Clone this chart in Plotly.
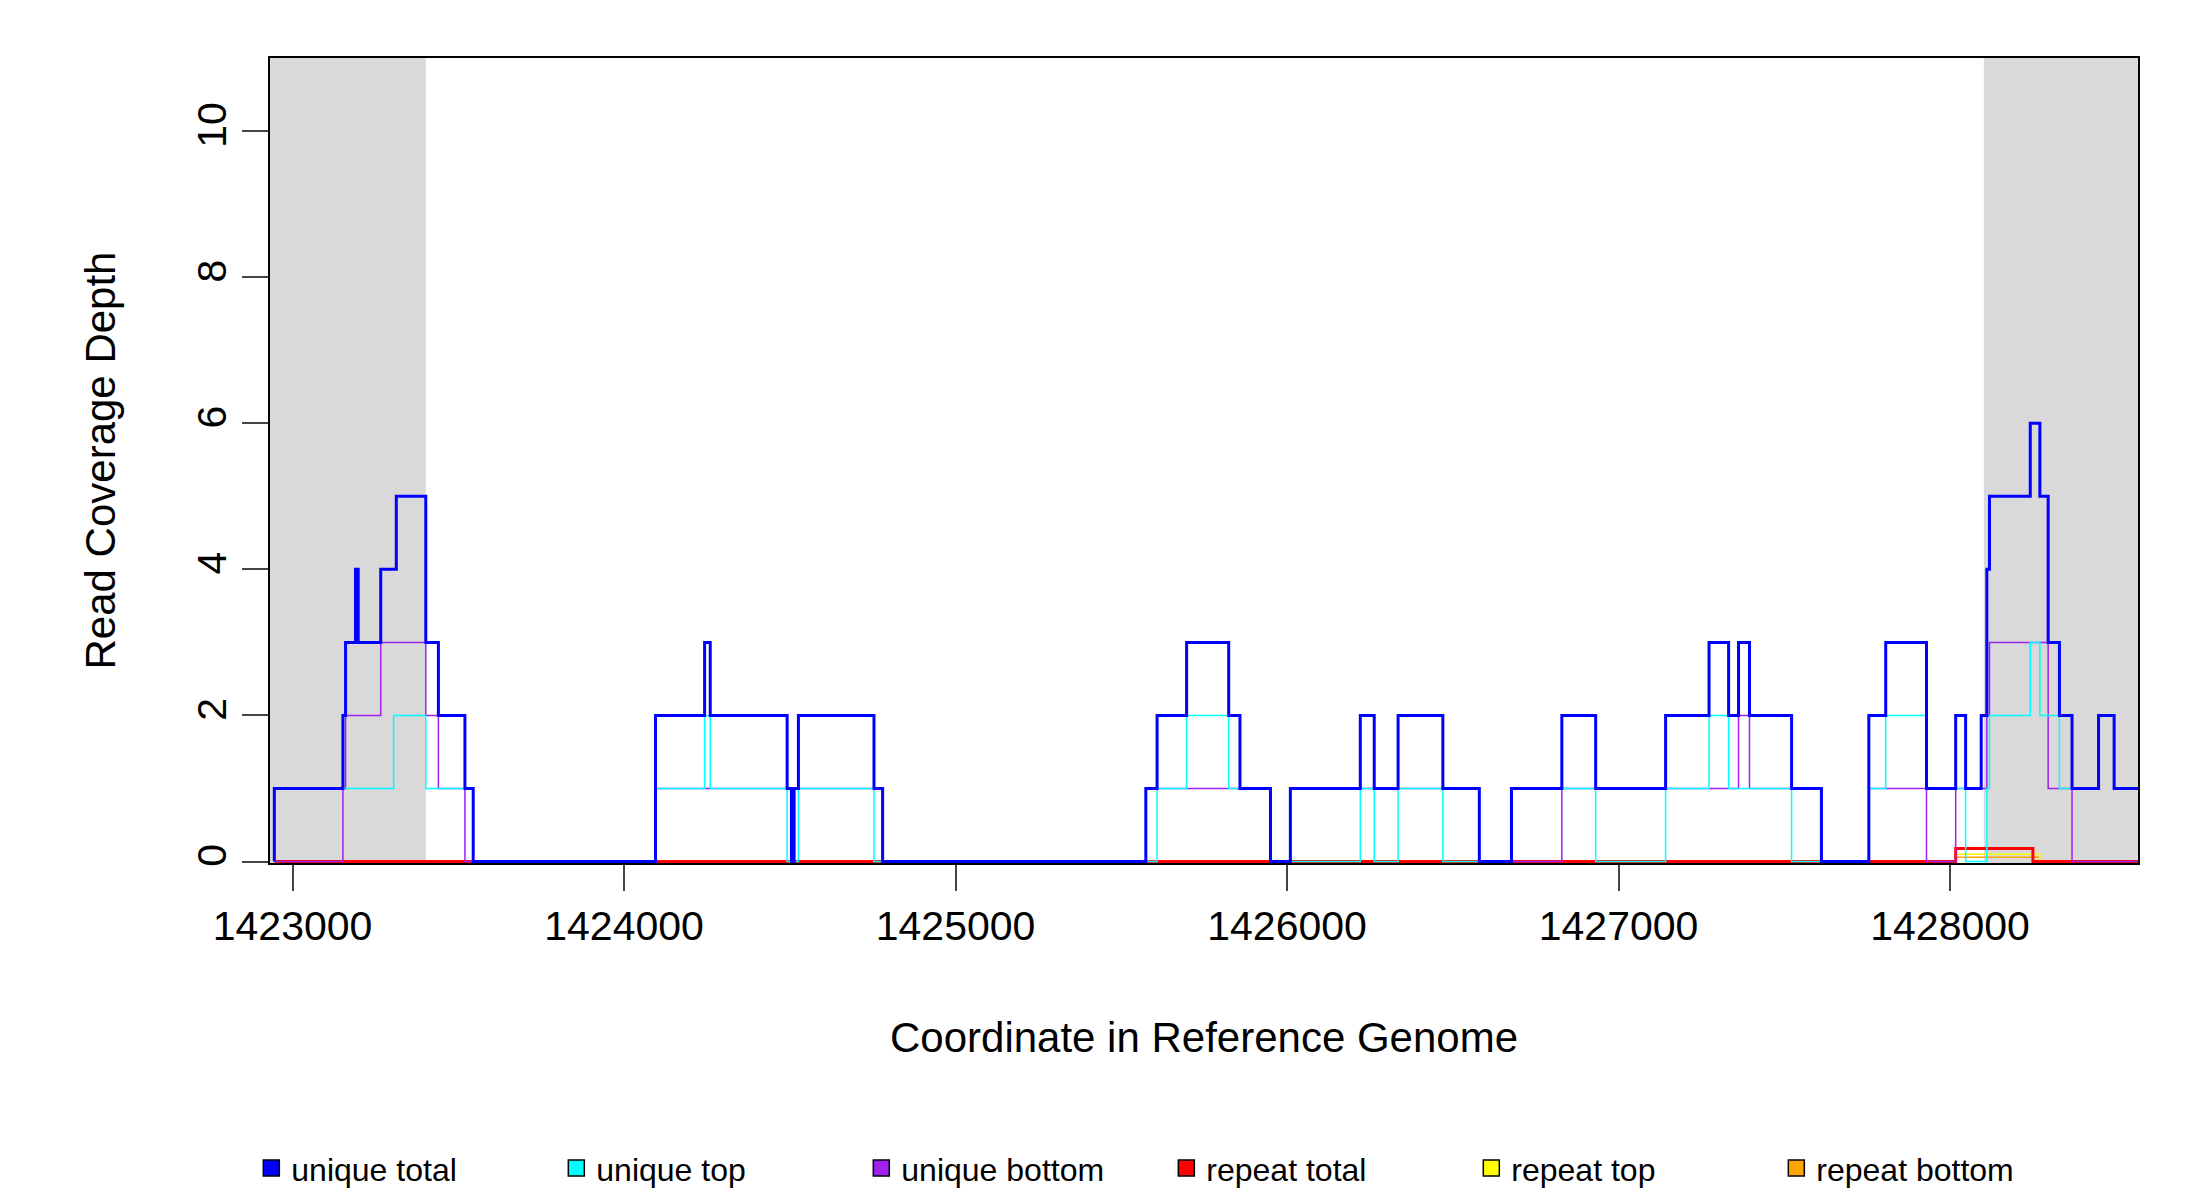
import plotly.graph_objects as go

# step functions: (start coordinate, depth) pairs, each step lasts until the next start
x_end = 1428567

unique_total_x = [1422945, 1423152, 1423160, 1423190, 1423198, 1423266, 1423313, 1423402, 1423440, 1423520, 1423545,
                  1424095, 1424243, 1424260, 1424492, 1424505, 1424513, 1424526, 1424754, 1424780,
                  1425574, 1425608, 1425697, 1425824, 1425858, 1425950,
                  1426010, 1426221, 1426263, 1426335, 1426470, 1426580,
                  1426677, 1426829, 1426931, 1427142, 1427273, 1427332, 1427362, 1427395, 1427522, 1427612,
                  1427755, 1427806, 1427929, 1428017, 1428047, 1428094, 1428111, 1428119, 1428242, 1428271,
                  1428296, 1428330, 1428368, 1428448, 1428495]
unique_total_y = [1, 2, 3, 4, 3, 4, 5, 3, 2, 1, 0,
                  2, 3, 2, 1, 0, 1, 2, 1, 0,
                  1, 2, 3, 2, 1, 0,
                  1, 2, 1, 2, 1, 0,
                  1, 2, 1, 2, 3, 2, 3, 2, 1, 0,
                  2, 3, 1, 2, 1, 2, 4, 5, 6, 5,
                  3, 2, 1, 2, 1]

unique_top_x = [1422945, 1423305, 1423402, 1423545,
                1424095, 1424243, 1424260, 1424492, 1424526, 1424754,
                1425608, 1425697, 1425824, 1425950,
                1426221, 1426263, 1426335, 1426470,
                1426677, 1426931, 1427142, 1427273, 1427332, 1427522,
                1427755, 1427806, 1427929, 1428047, 1428111, 1428119, 1428242, 1428271, 1428296, 1428330,
                1428368, 1428448, 1428495]
unique_top_y = [1, 2, 1, 0,
                1, 2, 1, 0, 1, 0,
                1, 2, 1, 0,
                1, 0, 1, 0,
                1, 0, 1, 2, 1, 0,
                1, 2, 1, 0, 1, 2, 3, 2, 2, 1,
                1, 2, 1]

unique_bottom_x = [1422945, 1423152, 1423160, 1423266, 1423402, 1423440, 1423520,
                   1424095, 1424505, 1424513, 1424780,
                   1425574, 1425950, 1426010, 1426580,
                   1426829, 1427362, 1427395, 1427612,
                   1427755, 1427929, 1428017, 1428047, 1428094, 1428111, 1428119, 1428271, 1428296, 1428368]
unique_bottom_y = [0, 1, 2, 3, 2, 1, 0,
                   1, 0, 1, 0,
                   1, 0, 1, 0,
                   1, 2, 1, 0,
                   1, 0, 1, 1, 1, 2, 3, 3, 1, 0]

repeat_total_x = [1422945, 1428017, 1428250]
repeat_total_y = [0, 0.18, 0]
repeat_top_x = [1422945, 1428017, 1428271]
repeat_top_y = [0, 0.1, 0]
repeat_bottom_x = [1422945, 1428017, 1428271]
repeat_bottom_y = [0, 0.06, 0]

series = [
    ("unique total", "blue", 3, unique_total_x, unique_total_y),
    ("unique top", "cyan", 1.5, unique_top_x, unique_top_y),
    ("unique bottom", "#A020F0", 1.5, unique_bottom_x, unique_bottom_y),
    ("repeat total", "red", 3, repeat_total_x, repeat_total_y),
    ("repeat top", "yellow", 1.5, repeat_top_x, repeat_top_y),
    ("repeat bottom", "orange", 1.5, repeat_bottom_x, repeat_bottom_y),
]

shade_regions = [(1422932, 1423402), (1428102, 1428567)]

fig = go.Figure()
for x0, x1 in shade_regions:
    fig.add_vrect(x0=x0, x1=x1, fillcolor="#D9D9D9", line_width=0, layer="below")

# draw order: repeat lines underneath, unique total on top
for name, col, w, xs, ys in [series[i] for i in (5, 4, 3, 2, 1, 0)]:
    fig.add_trace(go.Scatter(x=[xs[0]] + xs + [x_end], y=[0] + ys + [ys[-1]], mode="lines",
                             line=dict(color=col, width=w, shape="hv"), showlegend=False))

# legend squares
for name, col, w, xs, ys in series:
    fig.add_trace(go.Scatter(x=[None], y=[None], mode="markers", name=name,
                             marker=dict(symbol="square", size=26, color=col, line=dict(color="black", width=1.5))))

fig.update_layout(
    width=2200, height=1200,
    margin=dict(l=262, r=70, t=50, b=340),
    plot_bgcolor="white", paper_bgcolor="white",
    font=dict(family="Liberation Sans, Arial, sans-serif", size=32, color="black"),
    legend=dict(orientation="h", x=-0.01, y=-0.345, xanchor="left", yanchor="top",
                entrywidth=260, entrywidthmode="pixels", font=dict(size=32)),
    xaxis=dict(range=[1422932, 1428567], tickvals=[1423000, 1424000, 1425000, 1426000, 1427000, 1428000],
               tickformat="d",
               ticks="outside", ticklen=26, tickwidth=1.5, tickfont=dict(size=41),
               showline=True, linecolor="black", linewidth=1.5, mirror=True, showgrid=False, zeroline=False,
               title=dict(text="Coordinate in Reference Genome", font=dict(size=42), standoff=75)),
    yaxis=dict(range=[-0.02, 11], tickvals=[0, 2, 4, 6, 8, 10], tickangle=-90,
               ticks="outside", ticklen=26, tickwidth=1.5, tickfont=dict(size=41),
               showline=True, linecolor="black", linewidth=1.5, mirror=True, showgrid=False, zeroline=False,
               title=dict(text="Read Coverage Depth", font=dict(size=42), standoff=60)),
)

fig.write_html("out.html")
